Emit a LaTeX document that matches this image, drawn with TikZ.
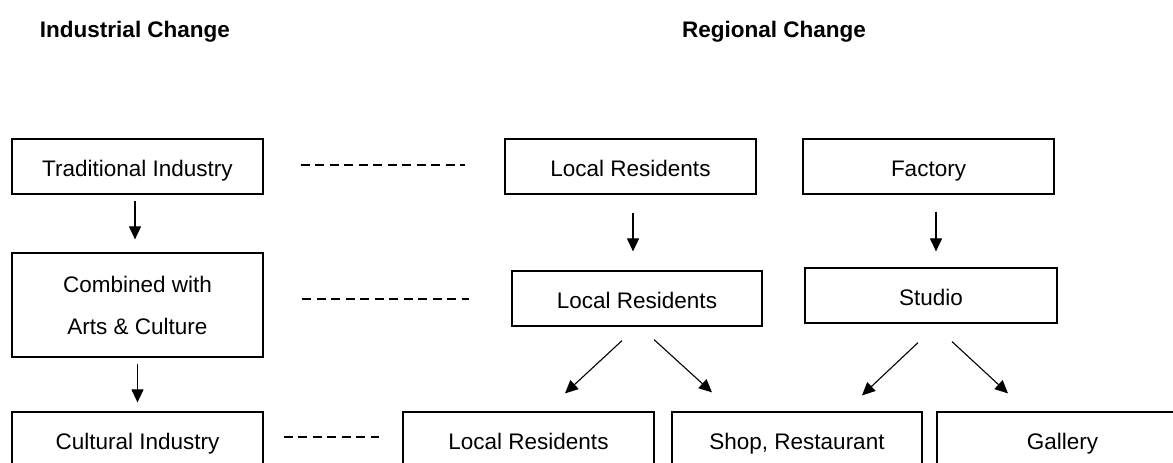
\documentclass[tikz,border=0pt]{standalone}
\usepackage{fontspec}
\setmainfont{Liberation Sans}
\usetikzlibrary{arrows.meta}

\tikzset{
  box/.style={draw, line width=1.2pt, minimum width=251pt, minimum height=55pt, inner sep=0pt, text height=20pt, text depth=0pt},
  link/.style={line width=1.1pt, -{Triangle[width=12pt,length=13pt]}},
  tie/.style={line width=1.3pt, dash pattern=on 9pt off 5.5pt}
}

\begin{document}
\begin{tikzpicture}[x=1pt, y=-1pt, font=\fontsize{22.5}{27}\selectfont]
\clip (0,0) rectangle (1173,463);
\fill[white] (0,0) rectangle (1173,463);
% headings
\node (ind) at (135,32) {\bfseries Industrial Change};
\node (reg) at (774,32) {\bfseries Regional Change};
% industrial side
\node[box] (trad) at (137.5,166.5) {Traditional Industry};
\node[box, minimum height=104pt, align=center, text height=, text depth=, font=\fontsize{22.5}{42}\selectfont] (comb) at (137.5,305) {Combined with\\Arts \& Culture};
\node[box] (cult) at (137.5,439.5) {Cultural Industry};
% regional side
\node[box] (resA) at (630.5,166.5) {Local Residents};
\node[box] (fact) at (928.5,166.5) {Factory};
\node[box, minimum width=250pt] (resB) at (637,298.5) {Local Residents};
\node[box, minimum width=252pt] (studio) at (931,295.5) {Studio};
\node[box] (resC) at (528.5,439.5) {Local Residents};
\node[box, minimum width=250pt] (shop) at (797,439.5) {Shop, Restaurant};
\node[box] (gall) at (1062.5,439.5) {Gallery};
% arrows
\draw[link, shorten <=6pt, shorten >=13pt] ([xshift=-2.5pt]trad.south) -- ([xshift=-2.5pt]trad.south |- comb.north);
\draw[link, shorten <=6pt, shorten >=9pt] (comb.south) -- (comb.south |- cult.north);
\draw[link, shorten <=18pt, shorten >=19pt] ([xshift=2.5pt]resA.south) -- ([xshift=2.5pt]resA.south |- resB.north);
\draw[link, shorten <=17pt, shorten >=16pt] ([xshift=7.5pt]fact.south) -- ([xshift=7.5pt]fact.south |- studio.north);
\draw[link] ([xshift=-15pt,yshift=-14pt]resB.south) -- ([xshift=36.5pt,yshift=18pt]resC.north);
\draw[link] ([xshift=17pt,yshift=-13pt]resB.south) -- ([xshift=-85pt,yshift=19pt]shop.north);
\draw[link] ([xshift=-13pt,yshift=-19pt]studio.south) -- ([xshift=65pt,yshift=16pt]shop.north);
\draw[link] ([xshift=21pt,yshift=-18pt]studio.south) -- ([xshift=-54.5pt,yshift=18pt]gall.north);
% dashed ties
\draw[tie] ([xshift=37pt,yshift=1.5pt]trad.east) -- ([xshift=-39pt,yshift=1.5pt]resA.west);
\draw[tie] ([xshift=-209pt,yshift=-0.5pt]resB.west) -- ([xshift=-42pt,yshift=-0.5pt]resB.west);
\draw[tie] ([xshift=20pt,yshift=2.5pt]cult.east) -- ([xshift=-23pt,yshift=2.5pt]resC.west);
\end{tikzpicture}
\end{document}
